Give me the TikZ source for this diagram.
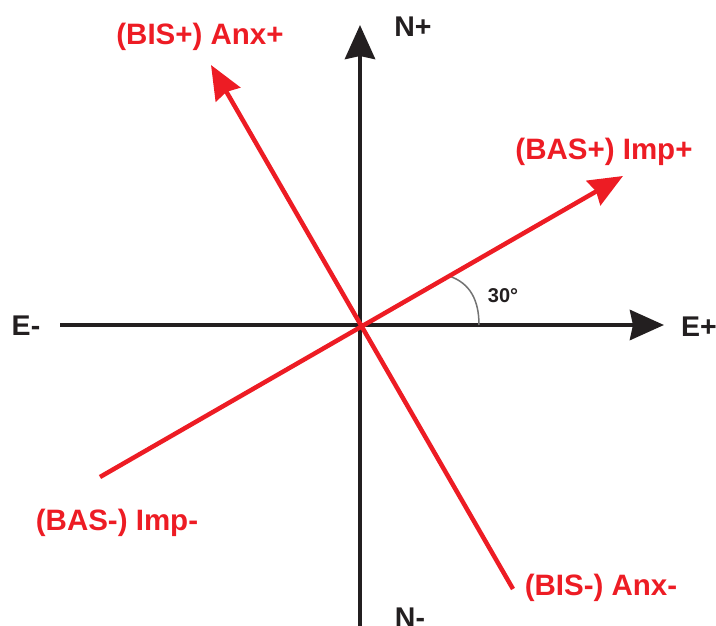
\documentclass[tikz,border=0pt]{standalone}
\usepackage{fontspec}
\setmainfont{Liberation Sans}
\usetikzlibrary{arrows.meta}
\definecolor{axred}{HTML}{ED1C24}
\definecolor{axblack}{HTML}{231F20}
\tikzset{
  axis/.style={draw=axblack, line width=4.5pt, -{Stealth[length=34pt,width=30pt,inset=3pt]}},
  redline/.style={draw=axred, line width=4.5pt},
  redarrow/.style={redline, -{Stealth[length=34pt,width=28pt,inset=3pt]}},
  lbl/.style={inner sep=0pt, anchor=base, font=\fontsize{28.5}{28.5}\selectfont\bfseries, text=axblack},
  redlbl/.style={inner sep=0pt, anchor=base, font=\fontsize{29.5}{29.5}\selectfont\bfseries, text=axred},
  anglbl/.style={inner sep=0pt, anchor=base, font=\fontsize{20}{20}\selectfont\bfseries, text=axblack}
}
\begin{document}
\begin{tikzpicture}[x=1pt,y=-1pt]
\useasboundingbox (0,0) rectangle (716,626);
\coordinate (O) at (360,325);
\coordinate (W) at (60,325);
\coordinate (E) at (664,325);
\coordinate (S) at (360,640);
\coordinate (N) at (360,25);
\coordinate (BASm) at (100,477);
\coordinate (BASp) at (623,176);
\coordinate (BISp) at (211,65);
\coordinate (BISm) at (513,589);
\coordinate (A0) at (479,325);
\coordinate (A1) at (449,276);
% axes
\draw[axis] (W) -- (E);
\draw[axis] (S) -- (N);
% angle arc
\draw[draw=black!55, line width=1.5pt] (A0) .. controls (479,300) and (470,283) .. (A1);
% red lines
\draw[redarrow] (BASm) -- (BASp);
\draw[redarrow] (BISm) -- (BISp);
% labels
\node[lbl] (lNp) at (413,37) {N+};
\node[lbl] (lNm) at (410,627) {N-};
\node[lbl] (lEm) at (26,335) {E-};
\node[lbl] (lEp) at (699,336) {E+};
\node[anglbl] (lang) at (503,302) {30°};
\node[redlbl] (lBISp) at (200,45) {(BIS+) Anx+};
\node[redlbl] (lBASp) at (604,160) {(BAS+) Imp+};
\node[redlbl] (lBASm) at (117,530) {(BAS-) Imp-};
\node[redlbl] (lBISm) at (601,595) {(BIS-) Anx-};
\end{tikzpicture}
\end{document}
